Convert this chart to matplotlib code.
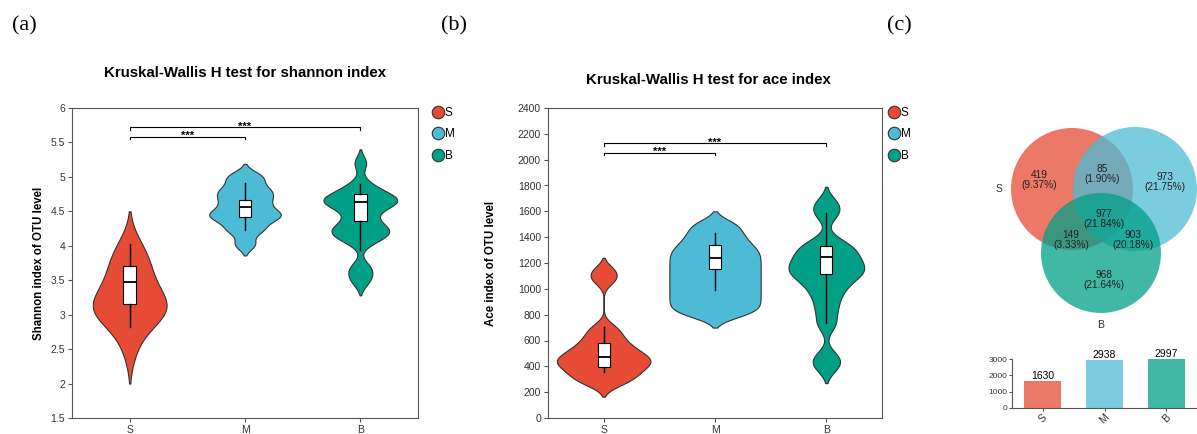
import numpy as np
import matplotlib
matplotlib.use("Agg")
import matplotlib.pyplot as plt
from matplotlib.lines import Line2D
from matplotlib.patches import Circle

plt.rcParams['font.family'] = ['Liberation Sans', 'DejaVu Sans']

# --- data ---
groups = ['S', 'M', 'B']
colors = ['#E64B35', '#4DBBD5', '#00A087']

# estimated observations behind the violins
shannon_S = [2.5, 2.8, 2.95, 3.0, 3.05, 3.1, 3.1, 3.15, 3.2, 3.3, 3.45, 3.5, 3.65, 3.75, 3.9, 4.0]
shannon_M = [4.02, 4.2, 4.28, 4.38, 4.42, 4.46, 4.5, 4.58, 4.65, 4.72, 4.78, 4.84, 4.95, 5.03]
shannon_B = [3.48, 3.6, 3.7, 4.05, 4.12, 4.18, 4.2, 4.24, 4.28, 4.36, 4.45, 4.55, 4.6, 4.62,
             4.65, 4.68, 4.7, 4.75, 4.8, 4.9, 5.2]
ace_S = [265, 300, 330, 360, 390, 410, 430, 450, 470, 490, 520, 550, 590, 640, 700, 1070, 1140]
ace_M = [800, 840, 880, 920, 960, 1000, 1040, 1080, 1120, 1160, 1200, 1240, 1280, 1320,
         1370, 1430, 1500]
ace_B = [400, 470, 730, 850, 950, 1020, 1080, 1110, 1140, 1170, 1200, 1240, 1280, 1320, 1360,
         1580, 1660]

# box statistics (whisker low, Q1, median, Q3, whisker high)
shannon_lo = [2.82, 4.23, 3.94]
shannon_q1 = [3.15, 4.42, 4.36]
shannon_med = [3.47, 4.56, 4.64]
shannon_q3 = [3.70, 4.665, 4.75]
shannon_hi = [4.02, 4.91, 4.89]

ace_lo = [359, 991, 733]
ace_q1 = [397, 1151, 1115]
ace_med = [475, 1236, 1244]
ace_q3 = [578, 1339, 1332]
ace_hi = [707, 1430, 1585]

# Venn regions: S only, S&M, M only, S&M&B, S&B, M&B, B only
venn_counts = [419, 85, 973, 977, 149, 903, 968]

# significance brackets (group i, group j, label)
sig_pairs = [(0, 1, '***'), (0, 2, '***')]
shannon_sig_y = [5.586, 5.72]
ace_sig_y = [2054, 2127]


def kde(samples, h, n=300):
    s = np.asarray(samples, dtype=float)
    grid = np.linspace(s.min() - 2 * h, s.max() + 2 * h, n)
    d = np.exp(-0.5 * ((grid[:, None] - s[None, :]) / h) ** 2).sum(axis=1)
    return grid, d / d.max()


def violin_panel(ax, data, bws, widths, lo, q1, med, q3, hi, sig_y, tick):
    for i, (vals, h, w) in enumerate(zip(data, bws, widths)):
        g, d = kde(vals, h)
        ax.fill_betweenx(g, i - d * w, i + d * w, facecolor=colors[i],
                         edgecolor='#333333', linewidth=0.8, zorder=2)
    stats = [dict(whislo=lo[i], q1=q1[i], med=med[i], q3=q3[i], whishi=hi[i])
             for i in range(3)]
    ax.bxp(stats, positions=range(3), widths=0.11, patch_artist=True,
           showcaps=False, showfliers=False,
           boxprops=dict(facecolor='white', edgecolor='black', linewidth=0.8),
           medianprops=dict(color='black', linewidth=1.3),
           whiskerprops=dict(color='black', linewidth=1.0), zorder=3)
    for (a, b, lab), y in zip(sig_pairs, sig_y):
        ax.plot([a, a, b, b], [y - tick, y, y, y - tick], color='black', lw=0.8, zorder=3)
        ax.text((a + b) / 2, y + tick * 0.25, lab, ha='center', va='center',
                fontsize=8, fontweight='bold')
    ax.set_xlim(-0.5, 2.5)
    ax.set_xticks(range(3))
    ax.set_xticklabels(groups)
    for sp in ax.spines.values():
        sp.set_color('#555555')
        sp.set_linewidth(0.8)
    ax.tick_params(labelsize=7.5, length=3, color='#555555', labelcolor='#333333', pad=2)


fig = plt.figure(figsize=(11.97, 4.34), dpi=100)
W, H = 1197, 434

# (a) shannon
ax1 = fig.add_axes([72 / W, 1 - 418 / H, 346 / W, 310 / H])
violin_panel(ax1, [shannon_S, shannon_M, shannon_B], [0.25, 0.08, 0.1], [0.32, 0.31, 0.32],
             shannon_lo, shannon_q1, shannon_med, shannon_q3, shannon_hi, shannon_sig_y, 0.04)
ax1.set_ylim(1.5, 6)
ax1.set_yticks(np.arange(1.5, 6.01, 0.5))
ax1.set_yticklabels([f'{v:g}' for v in np.arange(1.5, 6.01, 0.5)])
ax1.set_ylabel('Shannon index of OTU level', fontsize=8.3, fontweight='bold')
ax1.yaxis.set_label_coords(-0.078, 0.5)
fig.text(245 / W, 1 - 73 / H, 'Kruskal-Wallis H test for shannon index',
         ha='center', va='center', fontsize=10.8, fontweight='bold')

# (b) ace
ax2 = fig.add_axes([548 / W, 1 - 418 / H, 334 / W, 310 / H])
violin_panel(ax2, [ace_S, ace_M, ace_B], [50, 50, 65], [0.42, 0.41, 0.34],
             ace_lo, ace_q1, ace_med, ace_q3, ace_hi, ace_sig_y, 20)
ax2.set_ylim(0, 2400)
ax2.set_yticks(np.arange(0, 2401, 200))
ax2.set_ylabel('Ace index of OTU level', fontsize=8.3, fontweight='bold')
ax2.yaxis.set_label_coords(-0.153, 0.5)
fig.text(708 / W, 1 - 80 / H, 'Kruskal-Wallis H test for ace index',
         ha='center', va='center', fontsize=10.8, fontweight='bold')

# legends
handles = [Line2D([], [], marker='o', linestyle='', markersize=9, markerfacecolor=c,
                  markeredgecolor='#333333', markeredgewidth=0.8) for c in colors]
for x0 in (433, 889):
    fig.legend(handles, groups, loc='upper left', bbox_to_anchor=(x0 / W, 1 - 107 / H),
               frameon=False, fontsize=8.5, handlelength=0.8, handletextpad=0.2,
               labelspacing=0.8, borderpad=0, borderaxespad=0)

# (c) venn
ax3 = fig.add_axes([960 / W, 1 - 335 / H, 237 / W, 235 / H])
ax3.set_xlim(960, 1197)
ax3.set_ylim(335, 100)
ax3.axis('off')
centers = [(1072, 189), (1135, 189), (1101, 253)]
radii = [61, 62, 60]
for (cx, cy), r, c in zip(centers, radii, colors):
    ax3.add_patch(Circle((cx, cy), r, facecolor=c, alpha=0.75, edgecolor='none', clip_on=False))
total = sum(venn_counts)
label_pos = [(1039, 180), (1102, 174), (1165, 182), (1104, 219), (1071, 240), (1133, 240), (1104, 280)]
for (x, y), n in zip(label_pos, venn_counts):
    ax3.text(x, y, f'{n}\n({n / total * 100:.2f}%)', ha='center', va='center',
             fontsize=7.3, color='#222222', linespacing=1.05)
ax3.text(999, 189, 'S', ha='center', va='center', fontsize=7.5, color='#333333')
ax3.text(1101, 325, 'B', ha='center', va='center', fontsize=7.5, color='#333333')

# group totals from venn regions
totals = [venn_counts[0] + venn_counts[1] + venn_counts[3] + venn_counts[4],
          venn_counts[1] + venn_counts[2] + venn_counts[3] + venn_counts[5],
          venn_counts[3] + venn_counts[4] + venn_counts[5] + venn_counts[6]]

ax4 = fig.add_axes([1012 / W, 1 - 408 / H, 185 / W, 49 / H])
bars = ax4.bar(range(3), totals, width=0.6, color=colors, alpha=0.75)
ax4.bar_label(bars, labels=[str(t) for t in totals], fontsize=7.5, padding=0)
ax4.set_xlim(-0.5, 2.5)
ax4.set_ylim(0, 3000)
ax4.set_yticks([0, 1000, 2000, 3000])
ax4.set_xticks(range(3))
ax4.set_xticklabels(groups, rotation=45, fontsize=7.5)
ax4.spines['top'].set_visible(False)
ax4.spines['right'].set_visible(False)
for sp in ('left', 'bottom'):
    ax4.spines[sp].set_color('#555555')
    ax4.spines[sp].set_linewidth(0.8)
ax4.tick_params(axis='y', labelsize=6, length=2, color='#555555', labelcolor='#333333', pad=1)
ax4.tick_params(axis='x', length=2, color='#555555', labelcolor='#333333', pad=1)

# panel letters
for x, lab in ((12, '(a)'), (441, '(b)'), (887, '(c)')):
    fig.text(x / W, 1 - 26 / H, lab, ha='left', va='center', fontsize=16,
             family='Liberation Serif')

fig.savefig('out.png', dpi=100)
